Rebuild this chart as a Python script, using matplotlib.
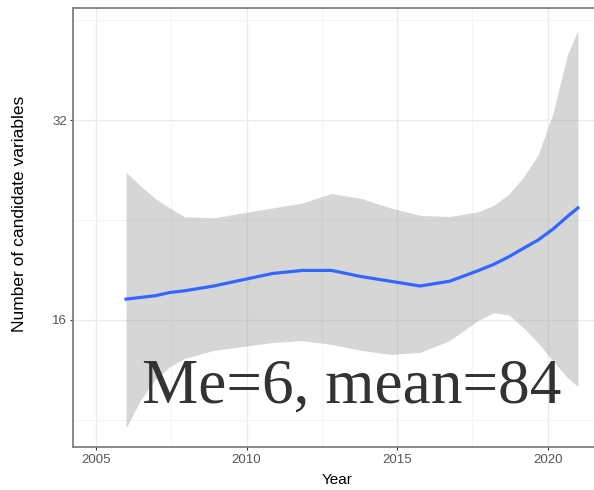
import numpy as np
import matplotlib.pyplot as plt
from matplotlib.ticker import FixedLocator, NullFormatter

# values (log2 y scale)
years = [2006.0, 2006.47, 2006.96, 2007.45, 2007.93, 2008.91, 2009.89, 2010.87, 2011.85, 2012.82, 2013.80,
         2014.78, 2015.76, 2016.74, 2017.71, 2018.20, 2018.69, 2019.18, 2019.67, 2020.16, 2020.65, 2021.0]
fit = [17.2, 17.3, 17.4, 17.6, 17.7, 18.0, 18.4, 18.8, 19.0, 19.0, 18.6,
       18.3, 18.0, 18.3, 19.0, 19.4, 19.9, 20.5, 21.1, 21.9, 22.9, 23.6]
upper = [26.7, 25.5, 24.4, 23.6, 22.9, 22.8, 23.2, 23.6, 24.0, 24.8, 24.4,
         23.6, 23.0, 22.9, 23.3, 23.8, 24.7, 26.2, 28.3, 32.6, 40.1, 43.7]
lower = [11.0, 12.1, 13.0, 13.6, 14.0, 14.4, 14.6, 14.8, 14.9, 14.7, 14.4,
         14.2, 14.3, 14.9, 16.0, 16.4, 16.3, 15.6, 14.8, 13.9, 13.1, 12.7]

xticks = [2005, 2010, 2015, 2020]
xminor = [2007.5, 2012.5, 2017.5]
yticks = [16, 32]
yminor = [11.31, 22.63, 45.25]

plt.rcParams['font.family'] = ['Liberation Sans', 'DejaVu Sans']

fig = plt.figure(figsize=(5.94, 4.90), dpi=100)
ax = fig.add_axes([73/594, 1-447/490, (602-73)/594, (447-8)/490])

ax.fill_between(years, lower, upper, color="#999999", alpha=0.4, linewidth=0, zorder=2)
ax.plot(years, fit, color="#3366FF", linewidth=2.3, zorder=3)

ax.set_yscale("log", base=2)
ax.set_xlim(2004.24, 2021.80)
ax.set_ylim(10.3, 47.2)

ax.xaxis.set_major_locator(FixedLocator(xticks))
ax.xaxis.set_minor_locator(FixedLocator(xminor))
ax.yaxis.set_major_locator(FixedLocator(yticks))
ax.yaxis.set_minor_locator(FixedLocator(yminor))
ax.set_xticklabels([str(t) for t in xticks])
ax.set_yticklabels([str(t) for t in yticks])
ax.yaxis.set_minor_formatter(NullFormatter())

ax.grid(True, which="major", color="#ebebeb", linewidth=1.0, zorder=0)
ax.grid(True, which="minor", color="#f4f4f4", linewidth=0.8, zorder=0)
ax.set_axisbelow(True)

ax.tick_params(which="major", length=2.2, width=0.8, color="#333333",
               labelcolor="#555555", labelsize=9.5)
ax.tick_params(axis="x", pad=2.5)
ax.tick_params(axis="y", pad=2.2)
ax.tick_params(which="minor", length=0)

for s in ["left", "bottom", "top"]:
    ax.spines[s].set_color("#7f7f7f")
    ax.spines[s].set_linewidth(1.3)
ax.spines["right"].set_visible(False)

fig.text(337/594, 1-480/490, "Year", fontsize=11, ha="center", va="center")
fig.text(20/594, 1-214/490, "Number of candidate variables", fontsize=12.5,
         rotation=90, ha="center", va="center")

fig.text(142/594, 1-403/490, "Me=6, mean=84", family="Liberation Serif",
         fontsize=45.5, color="#333333", ha="left", va="baseline")

fig.savefig("out.png", dpi=100)
